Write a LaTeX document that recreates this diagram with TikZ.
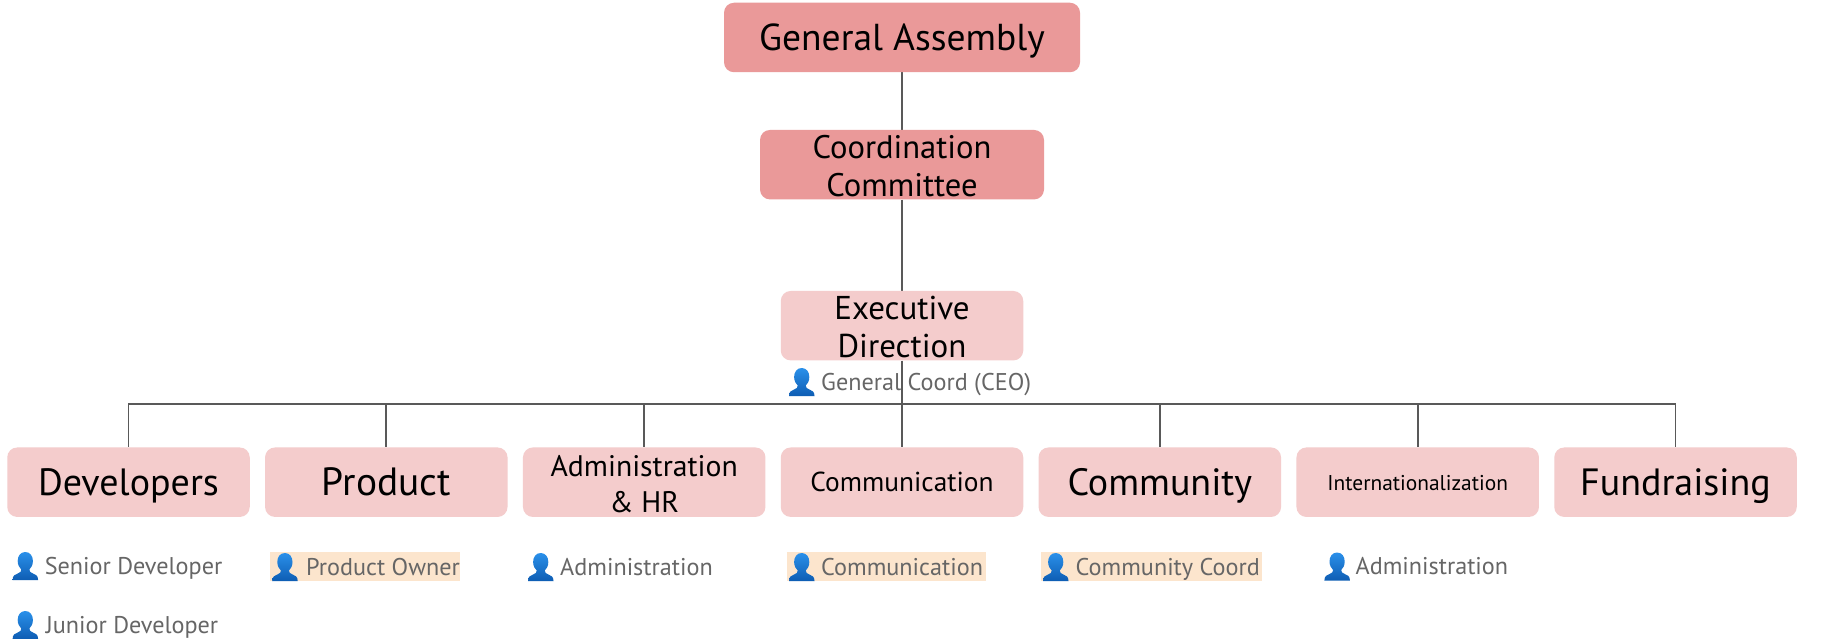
\documentclass[tikz,border=0pt]{standalone}
\usepackage{fontspec}
\setmainfont{PT Sans}
\usetikzlibrary{backgrounds}
\definecolor{darkbox}{HTML}{EA9999}
\definecolor{lightbox}{HTML}{F4CCCC}
\definecolor{wire}{HTML}{595959}
\definecolor{role}{HTML}{666666}
\definecolor{hilite}{HTML}{FCE5CD}
\definecolor{icontop}{HTML}{2A90EA}
\definecolor{iconbot}{HTML}{0E5DB3}
\newcommand{\fs}[1]{\fontsize{#1}{38}\selectfont}
\tikzset{
  x=1pt,y=-1pt,
  orgbox/.style={rectangle,rounded corners=10pt,align=center,text=black,inner sep=0pt,minimum height=69.5pt},
  dark/.style={orgbox,fill=darkbox},
  light/.style={orgbox,fill=lightbox,minimum width=242.5pt},
  big/.style={font=\fs{38},text height=26pt,text depth=0pt},
  rolelabel/.style={anchor=west,inner sep=0pt,text height=23pt,text depth=6pt,text=role,font=\fs{24.2}},
  hl/.style={rolelabel,fill=hilite},
  wireline/.style={draw=wire,line width=1.8pt},
  person/.pic={
    \shade[top color=icontop,bottom color=iconbot]
      (12.7,0) .. controls (17.5,0) and (20.3,4) .. (20.3,9)
      .. controls (20.3,13) and (18.5,16) .. (16.8,17.5)
      .. controls (16.5,19.5) and (18,20.5) .. (20,21.3)
      .. controls (23,22.4) and (25.5,23.5) .. (25.5,28)
      -- (0,28)
      .. controls (0,23.5) and (2.5,22.4) .. (5.5,21.3)
      .. controls (7.5,20.5) and (9,19.5) .. (8.7,17.5)
      .. controls (7,16) and (5.1,13) .. (5.1,9)
      .. controls (5.1,4) and (7.9,0) .. (12.7,0) -- cycle;
  },
}
\begin{document}
\begin{tikzpicture}
\useasboundingbox (0,0) rectangle (1823,639);
\node[dark,minimum width=356pt,font=\fs{37.5},text height=26pt,text depth=0pt] (ga) at (902,37.5) {General Assembly};
\node[dark,minimum width=284pt,font=\fs{32.6}] (cc) at (902,164.7) {\rule{0pt}{26.4pt}Coordination\\Committee};
\node[light,font=\fs{33}] (ed) at (902,325.7) {\rule{0pt}{26.4pt}Executive\\Direction};
\node[light,big] (dev) at (128.5,482.2) {Developers};
\node[light,big,font=\fs{39.4}] (prod) at (386.3,482.2) {Product};
\node[light,font=\fontsize{29.7}{36}\selectfont] (adm) at (644.2,482.2) {\rule{0pt}{24.4pt}Administration\\\& HR};
\node[light,font=\fs{27.4},text height=19pt,text depth=0pt] (com) at (902,482.2) {Communication};
\node[light,big] (cmt) at (1159.8,482.2) {Community};
\node[light,font=\fs{21.4},text height=16pt,text depth=0pt] (int) at (1417.7,482.2) {Internationalization};
\node[light,big] (fun) at (1675.5,482.2) {Fundraising};
\coordinate (bus) at (902,404.3);
\node[rolelabel] (r0) at (787,381.5) {\hspace*{34pt}General Coord (CEO)};
\node[rolelabel] (r1) at (10.6,565.5) {\hspace*{34pt}Senior Developer};
\node[rolelabel] (r2) at (10.6,624.5) {\hspace*{35pt}Junior Developer};
\node[hl] (r3) at (270.2,566.5) {\hspace*{35.8pt}Product Owner};
\node[rolelabel] (r4) at (526,566.5) {\hspace*{34pt}Administration};
\node[hl] (r5) at (787,566.5) {\hspace*{34pt}Communication\hspace*{3pt}};
\node[hl] (r6) at (1041,566.5) {\hspace*{34.5pt}Community Coord\hspace*{2pt}};
\node[rolelabel] (r7) at (1322.4,566) {\hspace*{33pt}Administration};
\foreach \r in {r0,r1,r2,r3,r4,r5,r6,r7}{\pic[shift={(2,-13.5)}] at (\r.west) {person};}
\begin{scope}[on background layer]
\fill[white] (0,0) rectangle (1823,639);
\draw[wireline] (ga) -- (cc);
\draw[wireline] (cc) -- (ed);
\draw[wireline] (ed) -- (com);
\foreach \c in {dev,prod,adm,cmt,int,fun}{\draw[wireline] (bus) -| (\c.north);}
\end{scope}
\end{tikzpicture}
\end{document}
